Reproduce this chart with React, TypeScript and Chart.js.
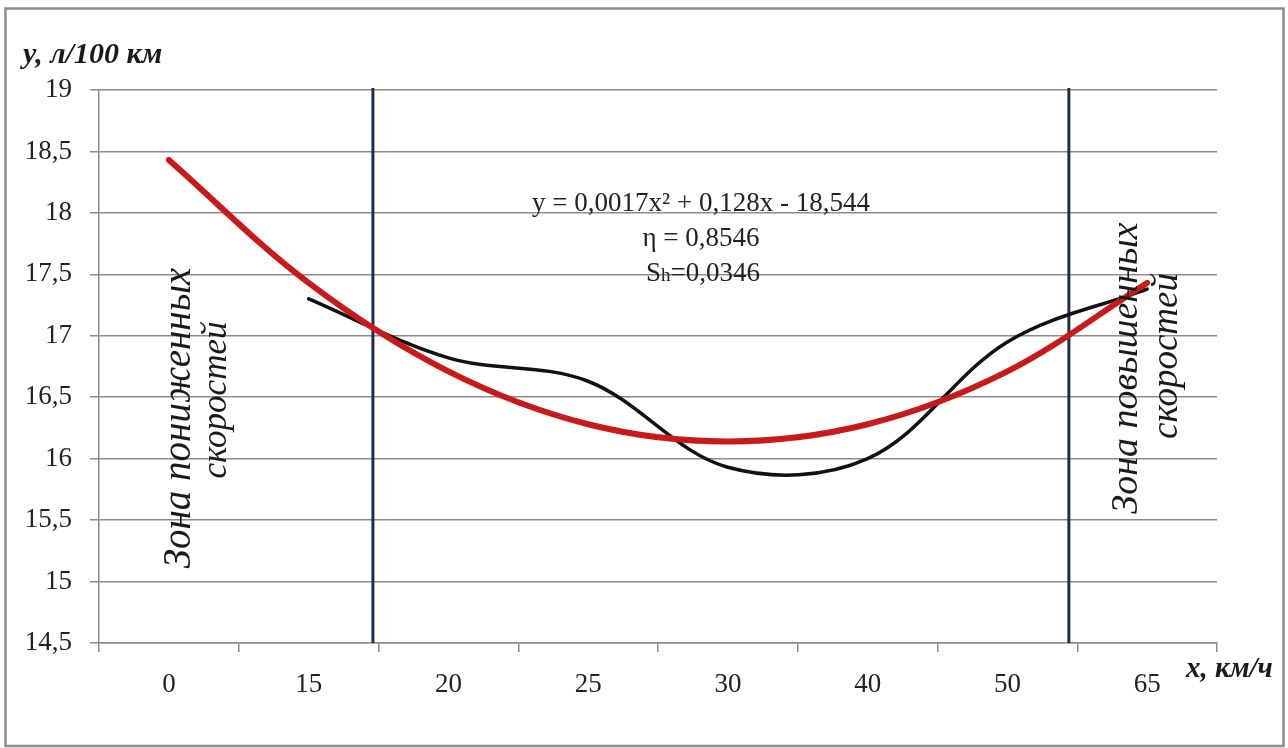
import React, { useEffect, useRef } from 'react';
import { Chart, registerables } from 'chart.js';

Chart.register(...registerables);

// ---- data ----
const categories: string[] = ['0', '15', '20', '25', '30', '40', '50', '65'];
const fuelActual: (number | null)[] = [null, 17.3, 16.82, 16.63, 15.93, 16.0, 16.95, 17.38];
const fuelTrend: number[] = [18.43, 17.43, 16.71, 16.28, 16.14, 16.28, 16.71, 17.43];
const yMin = 14.5;
const yMax = 19;
const yStep = 0.5;
// zone boundaries, in category-index units on the x scale
const zoneBounds: number[] = [1.46, 6.44];

const yTitle = 'y, л/100 км';
const xTitle = 'x, км/ч';
const equationMain = 'y = 0,0017x² + 0,128x - 18,544';
const equationEta = 'η = 0,8546';
const equationS = ['S', 'h', '=0,0346'];
const lowZone = ['Зона пониженных', 'скоростей'];
const highZone = ['Зона повышенных', 'скоростей'];

const SERIF = "'Liberation Serif', 'DejaVu Serif', serif";

const overlayPlugin = {
  id: 'overlayPlugin',
  beforeDraw(chart: any) {
    const { ctx, width, height } = chart;
    ctx.save();
    ctx.fillStyle = '#ffffff';
    ctx.fillRect(0, 0, width, height);
    ctx.strokeStyle = '#8c8c8c';
    ctx.lineWidth = 2.5;
    ctx.strokeRect(5.5, 8.5, 1278, 737.5);
    ctx.restore();
  },
  beforeDatasetsDraw(chart: any) {
    const { ctx, chartArea } = chart;
    const xs = chart.scales.x;
    ctx.save();
    ctx.strokeStyle = '#1b2f4e';
    ctx.lineWidth = 3;
    zoneBounds.forEach((v) => {
      const px = xs.getPixelForValue(v);
      ctx.beginPath();
      ctx.moveTo(px, chartArea.top - 2);
      ctx.lineTo(px, chartArea.bottom);
      ctx.stroke();
    });
    ctx.restore();
  },
  afterDraw(chart: any) {
    const { ctx } = chart;
    ctx.save();
    ctx.fillStyle = '#1a1a1a';
    // axis titles
    ctx.textAlign = 'left';
    ctx.textBaseline = 'alphabetic';
    ctx.font = `italic bold 30px ${SERIF}`;
    ctx.fillText(yTitle, 23, 63);
    ctx.font = `italic bold 29px ${SERIF}`;
    ctx.fillText(xTitle, 1186, 677);

    // equation block
    ctx.fillStyle = '#222';
    ctx.textAlign = 'center';
    ctx.font = `27px ${SERIF}`;
    ctx.fillText(equationMain, 701, 211);
    ctx.fillText(equationEta, 701, 246);
    // S_h = ...
    const fBig = `27px ${SERIF}`;
    const fSmall = `19px ${SERIF}`;
    ctx.font = fBig;
    const w1 = ctx.measureText(equationS[0]).width;
    const w3 = ctx.measureText(equationS[2]).width;
    ctx.font = fSmall;
    const w2 = ctx.measureText(equationS[1]).width;
    let sx = 703 - (w1 + w2 + w3) / 2;
    ctx.textAlign = 'left';
    ctx.font = fBig;
    ctx.fillText(equationS[0], sx, 281);
    sx += w1;
    ctx.font = fSmall;
    ctx.fillText(equationS[1], sx, 281);
    sx += w2;
    ctx.font = fBig;
    ctx.fillText(equationS[2], sx, 281);

    // rotated zone labels
    ctx.fillStyle = '#1a1a1a';
    ctx.textAlign = 'center';
    const drawRot = (text: string, x: number, y: number, size: number) => {
      ctx.save();
      ctx.font = `italic ${size}px ${SERIF}`;
      ctx.translate(x, y);
      ctx.rotate(-Math.PI / 2);
      ctx.fillText(text, 0, 0);
      ctx.restore();
    };
    drawRot(lowZone[0], 190, 418, 39);
    drawRot(lowZone[1], 226, 400, 35);
    drawRot(highZone[0], 1137, 368, 38);
    drawRot(highZone[1], 1177, 356, 37);
    ctx.restore();
  },
};

export default function App() {
  const canvasRef = useRef<HTMLCanvasElement | null>(null);

  useEffect(() => {
    const canvas = canvasRef.current;
    if (!canvas) return;
    const chart = new Chart(canvas, {
      type: 'line',
      data: {
        labels: categories,
        datasets: [
          {
            label: 'trend',
            data: fuelTrend,
            borderColor: '#c81a1a',
            borderWidth: 6,
            borderCapStyle: 'round',
            pointRadius: 0,
            tension: 0.35,
            fill: false,
          },
          {
            label: 'actual',
            data: fuelActual,
            borderColor: '#111111',
            borderWidth: 3.5,
            borderCapStyle: 'round',
            pointRadius: 0,
            tension: 0.35,
            fill: false,
          },
        ],
      },
      options: {
        responsive: false,
        animation: false,
        devicePixelRatio: 1,
        layout: { padding: { top: 90, right: 71, left: 0, bottom: 0 } },
        plugins: {
          legend: { display: false },
          tooltip: { enabled: false },
          title: { display: false },
        },
        scales: {
          x: {
            type: 'category',
            offset: true,
            grid: {
              offset: true,
              drawOnChartArea: false,
              drawTicks: true,
              tickLength: 9,
              color: '#8c8c8c',
              lineWidth: 1.5,
            },
            border: { color: '#8c8c8c', width: 1.5 },
            ticks: {
              font: { family: SERIF, size: 27 },
              color: '#222',
              padding: 17,
              maxRotation: 0,
              autoSkip: false,
            },
            afterFit: (s: any) => {
              s.height = 105;
            },
          },
          y: {
            min: yMin,
            max: yMax,
            ticks: {
              stepSize: yStep,
              font: { family: SERIF, size: 27 },
              color: '#222',
              padding: 18,
              callback: (v: any) => String(v).replace('.', ','),
            },
            grid: {
              color: '#8c8c8c',
              lineWidth: 1.5,
              tickLength: 9,
            },
            border: { color: '#8c8c8c', width: 1.5 },
            afterFit: (s: any) => {
              s.width = 99;
            },
          },
        },
      },
      plugins: [overlayPlugin],
    } as any);
    return () => chart.destroy();
  }, []);

  return (
    <div style={{ position: 'absolute', left: 0, top: 0, width: 1288, height: 748, background: '#fff' }}>
      <canvas ref={canvasRef} width={1288} height={748} style={{ display: 'block' }} />
    </div>
  );
}
